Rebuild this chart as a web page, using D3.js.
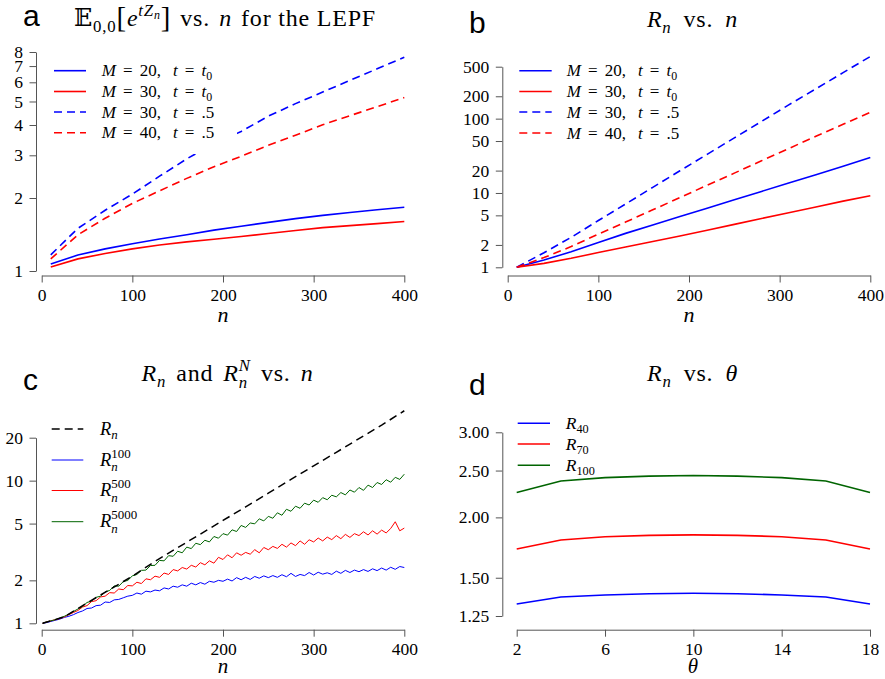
<!DOCTYPE html>
<html><head><meta charset="utf-8">
<script src="https://cdn.jsdelivr.net/npm/d3@7"></script>
<style>body{margin:0;background:#fff}svg{display:block}text{white-space:pre}</style>
</head><body>
<svg id="chart" width="885" height="679"></svg>
<script>
// ---------- data ----------
const nA = [10,40,70,100,130,160,190,220,250,280,310,340,370,400];
const aM20t0 = [1.069,1.165,1.234,1.296,1.354,1.412,1.474,1.530,1.587,1.644,1.696,1.744,1.790,1.831];
const aM30t0 = [1.039,1.122,1.181,1.234,1.281,1.318,1.351,1.387,1.428,1.470,1.509,1.539,1.568,1.600];
const aM30t5 = [1.166,1.50,1.78,2.075,2.46,2.90,3.35,3.76,4.35,4.90,5.47,6.11,6.82,7.61];
const aM40t5 = [1.122,1.41,1.65,1.90,2.14,2.41,2.69,2.97,3.30,3.63,4.01,4.37,4.76,5.19];

const bM20t0 = [1,1.25,1.62,2.16,2.86,3.71,4.81,6.23,8.08,10.5,13.6,17.6,22.9,30.0];
const bM30t0 = [1,1.13,1.32,1.58,1.88,2.23,2.64,3.16,3.78,4.53,5.42,6.49,7.77,9.2];
const bM30t5 = [1,1.57,2.53,4.26,7.1,11.9,19.9,33.1,55.1,91.8,153,252,416,686];
const bM40t5 = [1,1.35,1.90,2.80,4.06,5.93,8.67,12.7,18.5,27.1,39.6,58.0,83.9,121.5];

const cNR = [1,25,50,75,100,125,150,175,200,225,250,275,300,325,350,375,400];
const cRn = [1,1.11,1.39,1.72,2.14,2.72,3.39,4.22,5.26,6.55,8.17,10.2,12.7,15.8,19.7,24.5,30.9];

const cN = [1,5,10,15,20,25,30,35,40,45,50,55,60,65,70,75,80,85,90,95,100,105,110,115,120,125,130,135,140,145,150,155,160,165,170,175,180,185,190,195,200,205,210,215,220,225,230,235,240,245,250,255,260,265,270,275,280,285,290,295,300,305,310,315,320,325,330,335,340,345,350,355,360,365,370,375,380,385,390,395,400];
const cR100 = [1.00,1.01,1.03,1.05,1.07,1.10,1.12,1.15,1.19,1.22,1.27,1.28,1.33,1.34,1.41,1.40,1.46,1.47,1.51,1.55,1.57,1.63,1.60,1.68,1.66,1.71,1.69,1.77,1.74,1.82,1.79,1.86,1.82,1.91,1.86,1.93,1.88,1.97,1.94,2.00,1.97,2.04,1.98,2.09,2.02,2.10,2.03,2.13,2.07,2.15,2.09,2.16,2.10,2.19,2.12,2.24,2.13,2.20,2.16,2.27,2.18,2.28,2.21,2.26,2.20,2.32,2.24,2.35,2.27,2.36,2.30,2.38,2.31,2.41,2.34,2.44,2.36,2.47,2.39,2.50,2.46];
const cR500 = [1.00,1.02,1.04,1.06,1.08,1.11,1.15,1.19,1.23,1.30,1.33,1.42,1.44,1.53,1.55,1.64,1.63,1.74,1.72,1.84,1.83,1.94,1.90,2.05,2.02,2.14,2.10,2.25,2.20,2.38,2.33,2.46,2.40,2.55,2.48,2.66,2.57,2.74,2.64,2.90,2.80,3.02,2.88,3.12,3.00,3.14,3.05,3.28,3.12,3.40,3.28,3.46,3.35,3.58,3.42,3.66,3.50,3.78,3.58,3.85,3.72,3.96,3.78,4.02,3.86,4.12,3.92,4.20,4.00,4.25,4.12,4.38,4.16,4.45,4.22,4.50,4.30,4.62,5.15,4.45,4.65];
const cR5000 = [1.00,1.02,1.04,1.06,1.09,1.12,1.16,1.21,1.26,1.31,1.40,1.43,1.52,1.55,1.66,1.70,1.83,1.82,1.96,2.00,2.15,2.20,2.35,2.36,2.54,2.55,2.76,2.74,2.98,2.95,3.20,3.12,3.42,3.34,3.64,3.56,3.82,3.72,4.06,3.95,4.25,4.15,4.52,4.40,4.85,4.70,5.05,4.98,5.40,5.22,5.62,5.45,5.95,5.72,6.30,6.10,6.62,6.40,6.95,6.75,7.30,7.05,7.60,7.35,7.90,7.70,8.25,7.95,8.60,8.30,8.95,8.55,9.30,8.95,9.70,9.40,10.15,9.75,10.55,10.20,11.10];

const dTheta = [2,4,6,8,10,12,14,16,18];
const dR40 = [1.324,1.368,1.382,1.390,1.393,1.390,1.382,1.368,1.324];
const dR70 = [1.720,1.795,1.824,1.836,1.840,1.836,1.824,1.795,1.720];
const dR100 = [2.252,2.378,2.417,2.434,2.441,2.434,2.417,2.378,2.252];

const ticksAx = [0,100,200,300,400], ticksAy = [1,2,3,4,5,6,7,8];
const ticksBy = [1,2,5,10,20,50,100,200,500];
const ticksCy = [1,2,5,10,20];
const ticksDx = [2,6,10,14,18], ticksDy = [1.25,1.5,2,2.5,3];

// ---------- helpers ----------
const SERIF = "'Liberation Serif','DejaVu Serif',serif";
const SANS = "'Liberation Sans',Arial,sans-serif";
const svg = d3.select('#chart');
const BLUE='#0000ff', RED='#ff0000', GREEN='#006400';

function mtext(x, y, parts, fs, anchor, ls){
  const grp = svg.append('g');
  let cx = 0;
  function put(p, bx){
    const t = grp.append('text').attr('x', bx).attr('y', (p.dy||0)*fs)
      .attr('font-size', fs*(p.s||1)).attr('font-style', p.i?'italic':'normal')
      .attr('font-family', p.f||SERIF).attr('fill','#000')
      .attr('letter-spacing', ls ? ls : null).text(p.t);
    return t.node().getComputedTextLength();
  }
  for(const p of parts){
    if(p.stack){ let w=0; for(const q of p.stack) w=Math.max(w, put(q,cx)); cx += w + (p.pad||0)*fs; }
    else cx += put(p,cx) + (p.pad||0)*fs;
  }
  const ox = anchor==='middle' ? x - cx/2 : x;
  grp.attr('transform', `translate(${ox},${y})`);
  return cx;
}

function axes(x, y, xt, yt, xAt, yAt, yfmt){
  const gx = svg.append('g').attr('transform',`translate(0,${xAt})`)
    .call(d3.axisBottom(x).tickValues(xt).tickSize(7).tickSizeOuter(0).tickPadding(6).tickFormat(d3.format('d')));
  const gy = svg.append('g').attr('transform',`translate(${yAt},0)`)
    .call(d3.axisLeft(y).tickValues(yt).tickSize(6.5).tickSizeOuter(0).tickPadding(6.5).tickFormat(yfmt||(d=>String(d))));
  for(const g of [gx,gy]){
    g.attr('color','#555');
    g.selectAll('text').attr('fill','#000').attr('font-family',SERIF).attr('font-size',17.5);
  }
}

function line(x, y, xs, ys, color, w, dash){
  svg.append('path').datum(xs.map((v,i)=>[v,ys[i]]))
    .attr('fill','none').attr('stroke',color).attr('stroke-width',w)
    .attr('stroke-dasharray',dash||null)
    .attr('d', d3.line().x(d=>x(d[0])).y(d=>y(d[1])));
}

function legLine(x1,x2,y,color,w,dash){
  svg.append('line').attr('x1',x1).attr('x2',x2).attr('y1',y).attr('y2',y)
    .attr('stroke',color).attr('stroke-width',w).attr('stroke-dasharray',dash||null);
}

function panelLetter(t,x,y){
  svg.append('text').attr('x',x).attr('y',y).attr('font-family',SANS).attr('font-size',30).text(t);
}

const DASH = '8,5';
const TFS = 24, TLS = 0.8;
const mLabel = (M, tpart) => {
  const p = [{t:'M',i:1,pad:.42},{t:'=',pad:.42},{t:M+',',pad:.7},{t:'t',i:1,pad:.42},{t:'=',pad:.42}];
  if(tpart==='t0') p.push({t:'t',i:1},{t:'0',s:.7,dy:.25}); else p.push({t:'.5'});
  return p;
};

// ---------- panel a ----------
{
  const x = d3.scaleLinear([0,400],[41.7,404.3]);
  const y = d3.scaleLog([1,8],[271,52]);
  line(x,y,nA,aM20t0,BLUE,1.6);
  line(x,y,nA,aM30t0,RED,1.6);
  line(x,y,nA,aM30t5,BLUE,1.6,DASH);
  line(x,y,nA,aM40t5,RED,1.6,DASH);
  svg.append('rect').attr('x',37).attr('y',56).attr('width',200).attr('height',98).attr('fill','#fff');
  axes(x,y,ticksAx,ticksAy,275.5,36);
  const rows = [[BLUE,null,'20','t0'],[RED,null,'30','t0'],[BLUE,DASH,'30','t5'],[RED,DASH,'40','t5']];
  const ry = [70.7,91.5,112,132.7];
  rows.forEach((r,i)=>{ legLine(54,86,ry[i],r[0],1.6,r[1]); mtext(101.7, ry[i]+5.5, mLabel(r[2],r[3]), 17); });
  mtext(225, 26, [{t:'\u{1D53C}',f:"'DejaVu Serif','DejaVu Sans',serif"},{t:'0,0',s:.7,dy:.25},{t:'[',s:1.2,dy:.05},{t:'e',i:1},{t:'tZ',i:1,s:.7,dy:-.42},{t:'n',i:1,s:.5,dy:-.3},{t:']',s:1.2,dy:.05,pad:.38},{t:'vs.',pad:.38},{t:'n',i:1,pad:.38},{t:'for the LEPF'}], TFS, 'middle', TLS);
  mtext(223, 322, [{t:'n',i:1}], 22, 'middle');
  panelLetter('a',23,26);
}

// ---------- panel b ----------
{
  const x = d3.scaleLinear([0,400],[507.7,870.3]);
  const y = d3.scaleLog([1,500],[267.3,66.7]);
  line(x,y,nA,bM20t0,BLUE,1.6);
  line(x,y,nA,bM30t0,RED,1.6);
  line(x,y,nA,bM30t5,BLUE,1.6,DASH);
  line(x,y,nA,bM40t5,RED,1.6,DASH);
  axes(x,y,ticksAx,ticksBy,275.5,502.3);
  const rows = [[BLUE,null,'20','t0'],[RED,null,'30','t0'],[BLUE,DASH,'30','t5'],[RED,DASH,'40','t5']];
  const ry = [70.7,91.5,112,133];
  rows.forEach((r,i)=>{ legLine(519.3,551.7,ry[i],r[0],1.6,r[1]); mtext(566.7, ry[i]+5.5, mLabel(r[2],r[3]), 17); });
  mtext(692.5, 27, [{t:'R',i:1},{t:'n',i:1,s:.7,dy:.25,pad:.5},{t:'vs.',pad:.5},{t:'n',i:1}], TFS, 'middle', TLS);
  mtext(689, 322, [{t:'n',i:1}], 22, 'middle');
  panelLetter('b',469,33);
}

// ---------- panel c ----------
{
  const x = d3.scaleLinear([0,400],[41.7,404.3]);
  const y = d3.scaleLog([1,20],[623.3,437.7]);
  line(x,y,cN,cR100,BLUE,1);
  line(x,y,cN,cR500,RED,1);
  line(x,y,cN,cR5000,GREEN,1);
  line(x,y,cNR,cRn,'#000',1.5,DASH);
  axes(x,y,ticksAx,ticksCy,629.7,36);
  legLine(51.7,83.3,429,'#000',1.5,DASH);
  mtext(100, 434.5, [{t:'R',i:1},{t:'n',i:1,s:.7,dy:.25}], 18.5);
  const rows = [[BLUE,'100',460],[RED,'500',490.5],[GREEN,'5000',521.7]];
  rows.forEach(r=>{ legLine(51.7,83.3,r[2],r[0],1); mtext(100, r[2]+5.5, [{t:'R',i:1},{stack:[{t:'n',i:1,s:.7,dy:.3},{t:r[1],s:.7,dy:-.42}]}], 18.5); });
  mtext(227.5, 381, [{t:'R',i:1},{t:'n',i:1,s:.7,dy:.25,pad:.42},{t:'and',pad:.42},{t:'R',i:1},{stack:[{t:'n',i:1,s:.7,dy:.3},{t:'N',i:1,s:.7,dy:-.42}],pad:.42},{t:'vs.',pad:.42},{t:'n',i:1}], TFS, 'middle', TLS);
  mtext(223, 673, [{t:'n',i:1}], 21, 'middle');
  panelLetter('c',23,390);
}

// ---------- panel d ----------
{
  const x = d3.scaleLinear([2,18],[516.7,870]);
  const y = d3.scaleLog([1.25,3],[616,432.3]);
  line(x,y,dTheta,dR40,BLUE,1.6);
  line(x,y,dTheta,dR70,RED,1.6);
  line(x,y,dTheta,dR100,GREEN,1.6);
  axes(x,y,ticksDx,ticksDy,629.7,502.3,d3.format('.2f'));
  const rows = [[BLUE,'40',423.3],[RED,'70',444],[GREEN,'100',465.3]];
  rows.forEach(r=>{ legLine(517.7,550,r[2],r[0],1.6); mtext(565.7, r[2]+5.5, [{t:'R',i:1},{t:r[1],s:.7,dy:.25}], 17.5); });
  mtext(692.5, 381, [{t:'R',i:1},{t:'n',i:1,s:.7,dy:.25,pad:.5},{t:'vs.',pad:.5},{t:'\u03B8',i:1}], TFS, 'middle', TLS);
  mtext(693, 673, [{t:'\u03B8',i:1}], 21, 'middle');
  panelLetter('d',469,395);
}
</script>
</body></html>
